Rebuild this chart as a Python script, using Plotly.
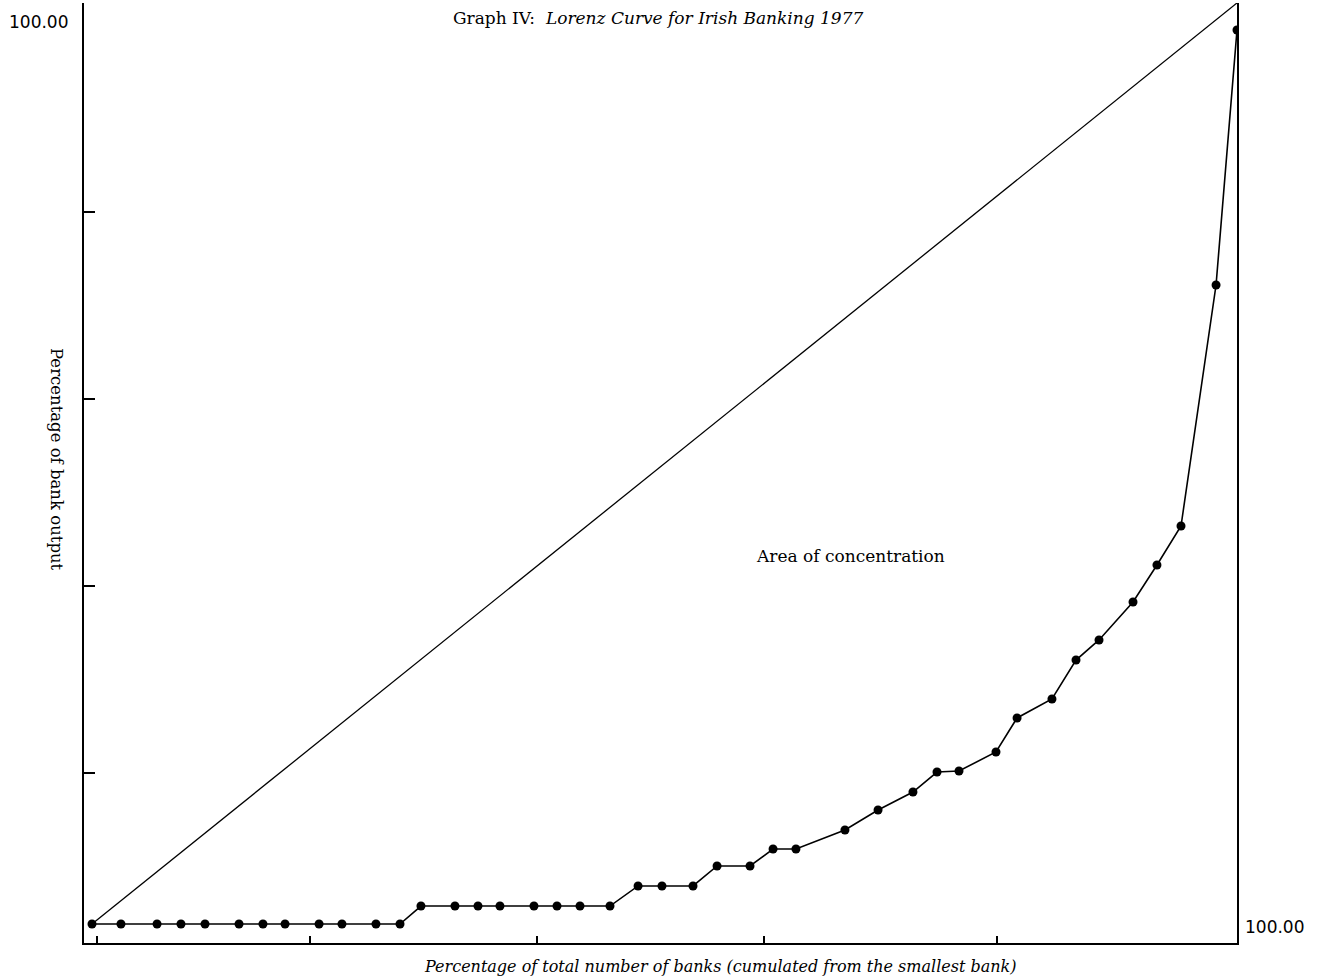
import plotly.graph_objects as go

# Lorenz curve points (cumulative % of banks, cumulative % of output)
banks_pct = [0.0, 2.53, 5.68, 7.77, 9.87, 12.84, 14.93, 16.86, 19.83, 21.83, 24.80, 26.90,
             28.73, 31.70, 33.71, 35.63, 38.60, 40.61, 42.62, 45.24,
             47.69, 49.78, 52.49, 54.59, 57.47, 59.48, 61.48, 65.76, 68.65, 71.70,
             73.80, 75.72, 78.95, 80.79, 83.84, 85.94, 87.95, 90.92, 93.01, 95.11,
             98.17, 100.0]
output_pct = [0.0, 0.0, 0.0, 0.0, 0.0, 0.0, 0.0, 0.0, 0.0, 0.0, 0.0, 0.0,
              1.95, 1.95, 1.95, 1.95, 1.95, 1.95, 1.95, 1.95,
              4.13, 4.13, 4.13, 6.30, 6.30, 8.14, 8.14, 10.21, 12.38, 14.33,
              16.50, 16.61, 18.68, 22.37, 24.43, 28.66, 30.84, 34.96, 38.98, 43.21,
              69.38, 97.07]

equality_x = [0, 100]
equality_y = [0, 100]

x_ticks = [0.44, 19.04, 38.86, 58.69, 79.04]
y_ticks = [16.40, 36.70, 57.00, 77.31]

title_text = "Graph IV:  <i>Lorenz Curve for Irish Banking 1977</i>"
x_title = "<i>Percentage of total number of banks (cumulated from the smallest bank)</i>"
y_title = "Percentage of bank output"
area_label = "Area of concentration"
end_label = "100.00"

SERIF = "DejaVu Serif"
INK = "#000000"

# plot area in pixels
L, R, T, B = 84, 1237, 3, 943
W, H = 1317, 980


def px(x):
    return (x - L) / (R - L)


def py(y):
    return (B - y) / (B - T)


fig = go.Figure()
fig.add_trace(go.Scatter(x=equality_x, y=equality_y, mode="lines",
                         line=dict(color=INK, width=1.3), hoverinfo="skip", showlegend=False))
fig.add_trace(go.Scatter(x=banks_pct, y=output_pct, mode="lines+markers",
                         line=dict(color=INK, width=1.6),
                         marker=dict(color=INK, size=9), showlegend=False))

fig.update_layout(
    width=W, height=H,
    margin=dict(l=L, r=W - R, t=T, b=H - B),
    paper_bgcolor="white", plot_bgcolor="white",
    font=dict(family=SERIF, color=INK),
    xaxis=dict(range=[-0.699, 100], showgrid=False, zeroline=False,
               showline=True, linecolor=INK, linewidth=2,
               ticks="inside", tickvals=x_ticks, ticktext=[""] * len(x_ticks),
               ticklen=7, tickwidth=2, tickcolor=INK),
    yaxis=dict(range=[-2.063, 100], showgrid=False, zeroline=False,
               showline=True, linecolor=INK, linewidth=2, mirror=True,
               ticks="inside", tickvals=y_ticks, ticktext=[""] * len(y_ticks),
               ticklen=11, tickwidth=2, tickcolor=INK),
    annotations=[
        dict(text=title_text, xref="paper", yref="paper", x=px(658), y=py(18),
             xanchor="center", yanchor="middle", showarrow=False,
             font=dict(family=SERIF, size=17, color=INK)),
        dict(text=x_title, xref="paper", yref="paper", x=px(720), y=py(966),
             xanchor="center", yanchor="middle", showarrow=False,
             font=dict(family=SERIF, size=16, color=INK)),
        dict(text=y_title, xref="paper", yref="paper", x=px(57), y=py(459),
             xanchor="center", yanchor="middle", showarrow=False, textangle=90,
             font=dict(family=SERIF, size=16.5, color=INK)),
        dict(text=area_label, xref="paper", yref="paper", x=px(850), y=py(556),
             xanchor="center", yanchor="middle", showarrow=False,
             font=dict(family=SERIF, size=17, color=INK)),
        dict(text=end_label, xref="paper", yref="paper", x=px(38), y=py(22),
             xanchor="center", yanchor="middle", showarrow=False,
             font=dict(family="DejaVu Sans", size=17, color=INK)),
        dict(text=end_label, xref="paper", yref="paper", x=px(1274), y=py(927),
             xanchor="center", yanchor="middle", showarrow=False,
             font=dict(family="DejaVu Sans", size=17, color=INK)),
    ],
)

fig.write_html("out.html", config={"displayModeBar": False},
               post_script="document.body.style.margin='0';document.body.style.overflow='hidden';")
